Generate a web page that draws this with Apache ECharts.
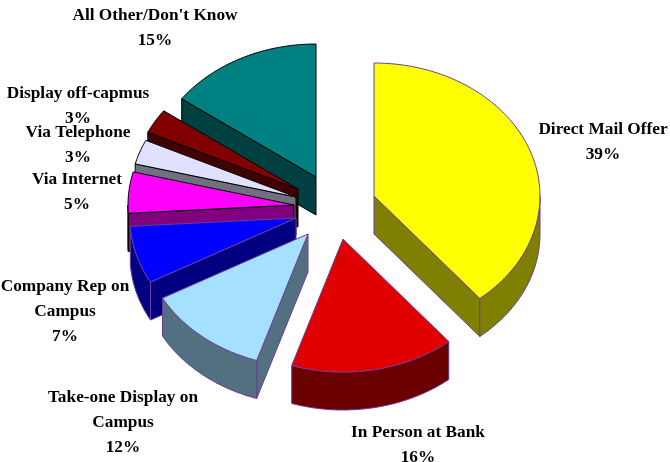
<!DOCTYPE html>
<html>
<head>
<meta charset="utf-8">
<style>html,body{margin:0;padding:0;background:#fff}#chart{width:670px;height:462px}</style>
<script src="https://cdn.jsdelivr.net/npm/echarts@6/dist/echarts.min.js"></script>
</head>
<body>
<div id="chart"></div>
<script>
// Survey shares, clockwise from twelve o'clock
const categories = ['Direct Mail Offer', 'In Person at Bank', 'Take-one Display on\nCampus', 'Company Rep on\nCampus',
  'Via Internet', 'Via Telephone', 'Display off-capmus', "All Other/Don't Know"];
const shares = [39, 16, 12, 7, 5, 3, 3, 15];

// Slice colours
const topColors = ['#ffff00', '#e00000', '#a6e0ff', '#0000ff', '#ff00ff', '#e0e0ff', '#800000', '#008080'];
const sideColors = ['#808000', '#6b0000', '#537080', '#000080', '#800080', '#707080', '#400000', '#004040'];
const edgeColors = ['#6a3d9a', '#6a3d9a', '#6a3d9a', '#6a3d9a', '#000000', '#000000', '#000000', '#000000'];

// Tilted-pie layout
const pieCenter = [332, 208];
const radiusX = 166, radiusY = 133, depth = 38;
const sliceOffsets = [[42, -12], [11, 31], [-24, 26], [-36, 10], [-38, -3], [-36, -11], [-34, -19], [-16, -31]];
const labelCenters = [[603, 130], [418, 433], [123, 398], [65, 287], [77, 180], [78, 133], [78, 94], [155, 16]];
const labelLineHeight = 25;
const labelFont = 'bold 17.3px "Liberation Serif", serif';
// Slices are painted back to front
const drawOrder = [7, 6, 5, 4, 3, 0, 2, 1];

const total = shares.reduce((a, b) => a + b, 0);
const rad = d => d * Math.PI / 180;

function sliceAngles(i) {
  const before = shares.slice(0, i).reduce((a, b) => a + b, 0);
  return [
    echarts.number.linearMap(before, [0, total], [0, 360]),
    echarts.number.linearMap(before + shares[i], [0, total], [0, 360])
  ];
}

function rim(apex, deg, drop) {
  return [apex[0] + radiusX * Math.sin(rad(deg)), apex[1] - radiusY * Math.cos(rad(deg)) + drop];
}

function arcPoints(apex, from, to, drop) {
  const pts = [];
  const steps = Math.max(2, Math.ceil(Math.abs(to - from)));
  for (let k = 0; k <= steps; k++) pts.push(rim(apex, from + (to - from) * k / steps, drop));
  return pts;
}

function renderSlice(params) {
  const i = drawOrder[params.dataIndex];
  const [a0, a1] = sliceAngles(i);
  const apex = [pieCenter[0] + sliceOffsets[i][0], pieCenter[1] + sliceOffsets[i][1]];
  const lower = [apex[0], apex[1] + depth];
  const face = (points, fill) => ({
    type: 'polygon', silent: true,
    shape: { points },
    style: { fill, stroke: edgeColors[i], lineWidth: 1, lineJoin: 'round' }
  });
  const children = [];

  // Cut faces turned toward the viewer
  if (Math.sin(rad(a0)) < -1e-6) {
    const p = rim(apex, a0, 0), q = rim(apex, a0, depth);
    children.push(face([apex, p, q, lower], sideColors[i]));
  }
  if (Math.sin(rad(a1)) > 1e-6) {
    const p = rim(apex, a1, 0), q = rim(apex, a1, depth);
    children.push(face([apex, p, q, lower], sideColors[i]));
  }
  // Front part of the outer wall
  const w0 = Math.max(a0, 90), w1 = Math.min(a1, 270);
  if (w1 > w0) {
    children.push(face(arcPoints(apex, w0, w1, 0).concat(arcPoints(apex, w1, w0, depth)), sideColors[i]));
  }
  // Top of the slice
  children.push(face([apex].concat(arcPoints(apex, a0, a1, 0)), topColors[i]));
  return { type: 'group', children };
}

function renderLabel(params) {
  const i = params.dataIndex;
  const lines = categories[i].split('\n').concat(shares[i] + '%');
  return {
    type: 'group',
    children: lines.map((line, k) => ({
      type: 'text', silent: true,
      style: {
        text: line,
        x: labelCenters[i][0],
        y: labelCenters[i][1] + k * labelLineHeight,
        font: labelFont,
        fill: '#000',
        align: 'center',
        verticalAlign: 'middle'
      }
    }))
  };
}

const chart = echarts.init(document.getElementById('chart'), null, { renderer: 'canvas' });
chart.setOption({
  animation: false,
  backgroundColor: '#ffffff',
  series: [
    {
      type: 'custom', coordinateSystem: 'none', silent: true, z: 2,
      data: drawOrder.map(i => shares[i]),
      renderItem: renderSlice
    },
    {
      type: 'custom', coordinateSystem: 'none', silent: true, z: 3,
      data: shares,
      renderItem: renderLabel
    }
  ]
});
</script>
</body>
</html>
